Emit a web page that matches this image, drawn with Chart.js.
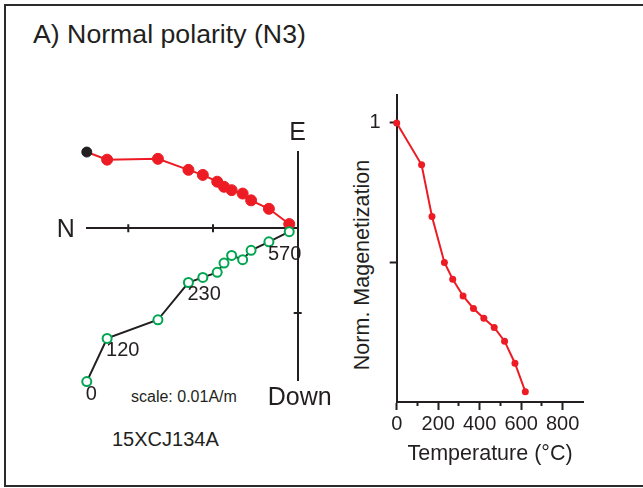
<!DOCTYPE html>
<html>
<head>
<meta charset="utf-8">
<script src="https://cdn.jsdelivr.net/npm/chart.js@4.4.1/dist/chart.umd.min.js"></script>
<style>
  body { margin: 0; background: #fff; }
  #page { position: relative; width: 643px; height: 488px; overflow: hidden; background: #fff;
          font-family: "Liberation Sans", Arial, sans-serif; color: #231f20; }
  #frame { position: absolute; left: 4px; top: 4px; width: 700px; height: 479px; border: 2px solid #2b2b2b; }
  .txt { position: absolute; white-space: nowrap; }
  canvas { position: absolute; }
</style>
</head>
<body>
<div id="page">
  <div id="frame"></div>
  <div class="txt" style="left:33px; top:21px; font-size:26.7px; line-height:26px;">A) Normal polarity (N3)</div>
  <div class="txt" style="left:131px; top:389px; font-size:16px; line-height:16px;">scale: 0.01A/m</div>
  <div class="txt" style="left:112px; top:429px; font-size:20px; line-height:20px;">15XCJ134A</div>
  <div class="txt" style="left:362px; top:265px; font-size:21.5px; line-height:21px; transform:translate(-50%,-50%) rotate(-90deg);">Norm. Magenetization</div>
  <canvas id="zij" width="300" height="320" style="left:40px; top:100px;"></canvas>
  <canvas id="demag" width="303" height="418" style="left:340px; top:70px;"></canvas>
</div>
<script>
// ---- Data ----
// demagnetization steps (°C)
const temps = [0, 120, 170, 230, 270, 320, 370, 420, 470, 520, 570, 620];
// Zijderveld components (A/m)
const north = [0.0249, 0.0225, 0.0165, 0.0129, 0.0112, 0.0095, 0.0087, 0.0078, 0.0065, 0.0055, 0.0034, 0.0010];
const east  = [0.0090, 0.0081, 0.0082, 0.0069, 0.0063, 0.0055, 0.0049, 0.0045, 0.0041, 0.0033, 0.0023, 0.0005];
const down  = [0.0181, 0.0130, 0.0108, 0.0064, 0.0058, 0.0052, 0.0041, 0.0032, 0.0037, 0.0026, 0.0016, 0.0004];
// normalised intensity
const normMag = [1.0, 0.85, 0.665, 0.50, 0.44, 0.38, 0.335, 0.30, 0.267, 0.218, 0.139, 0.037];

const labelSteps = [0, 1, 3, 10];      // steps that get a temperature label
const nTicks = [0.01, 0.02];
const downTicks = [0.01];
const yTicks = [0.5, 1];
const yTickLabels = ['', '1'];

const RED = '#ed1c24', GREEN = '#00a651', BLACK = '#231f20';
const FONT = '"Liberation Sans", Arial, sans-serif';

Chart.defaults.font.family = FONT;
Chart.defaults.color = BLACK;

// ---- Zijderveld extras: crossing ticks + axis letters + step labels ----
const zijExtras = {
  id: 'zijExtras',
  afterDraw(chart) {
    const { ctx, chartArea, scales: { x, y } } = chart;
    const x0 = x.getPixelForValue(0), y0 = y.getPixelForValue(0);
    ctx.save();
    ctx.strokeStyle = BLACK;
    ctx.lineWidth = 2;
    ctx.beginPath();
    nTicks.forEach(v => { const px = x.getPixelForValue(v); ctx.moveTo(px, y0 - 4); ctx.lineTo(px, y0 + 4); });
    downTicks.forEach(v => { const py = y.getPixelForValue(-v); ctx.moveTo(x0 - 4, py); ctx.lineTo(x0 + 4, py); });
    ctx.stroke();

    ctx.fillStyle = BLACK;
    ctx.font = '25px ' + FONT;
    ctx.textAlign = 'right';
    ctx.fillText('N', chartArea.left - 12, y0 + 9);
    ctx.textAlign = 'center';
    ctx.fillText('E', x0, chartArea.top - 12);
    ctx.fillText('Down', x0 + 2, chartArea.bottom + 25);

    ctx.font = '20px ' + FONT;
    ctx.textAlign = 'left';
    labelSteps.forEach(i => {
      ctx.fillText(String(temps[i]), x.getPixelForValue(north[i]) - 1, y.getPixelForValue(-down[i]) + 18);
    });
    ctx.restore();
  }
};

new Chart(document.getElementById('zij'), {
  type: 'scatter',
  data: {
    datasets: [
      { // vertical projection (N-Down)
        data: north.map((n, i) => ({ x: n, y: -down[i] })),
        showLine: true, clip: false,
        borderColor: BLACK, borderWidth: 2,
        pointRadius: 4.5, pointBorderWidth: 2,
        pointBorderColor: GREEN, pointBackgroundColor: '#fff'
      },
      { // horizontal projection (N-E)
        data: north.map((n, i) => ({ x: n, y: east[i] })),
        showLine: true, clip: false,
        borderColor: RED, borderWidth: 2,
        pointRadius: east.map((_, i) => i === 0 ? 5 : 5.5),
        pointBorderWidth: 1,
        pointBackgroundColor: east.map((_, i) => i === 0 ? BLACK : RED),
        pointBorderColor: east.map((_, i) => i === 0 ? BLACK : RED)
      }
    ]
  },
  options: {
    responsive: false, animation: false, devicePixelRatio: 1,
    layout: { padding: { left: 46.7, right: 42.3, top: 52.3, bottom: 40 } },
    plugins: { legend: { display: false }, tooltip: { enabled: false } },
    scales: {
      x: { type: 'linear', reverse: true, min: 0, max: 0.02491, position: { y: 0 },
           grid: { display: false, drawTicks: false }, ticks: { display: false },
           border: { color: BLACK, width: 2 } },
      y: { type: 'linear', min: -0.01791, max: 0.00897, position: { x: 0 },
           grid: { display: false, drawTicks: false }, ticks: { display: false },
           border: { color: BLACK, width: 2 } }
    }
  },
  plugins: [zijExtras]
});

// ---- Thermal demagnetization curve ----
new Chart(document.getElementById('demag'), {
  type: 'scatter',
  data: {
    datasets: [{
      data: temps.map((t, i) => ({ x: t, y: normMag[i] })),
      showLine: true, clip: false,
      borderColor: RED, borderWidth: 2,
      pointRadius: 3.5, pointBorderWidth: 0,
      pointBackgroundColor: RED
    }]
  },
  options: {
    responsive: false, animation: false, devicePixelRatio: 1,
    layout: { padding: { left: 0, right: 59.6, top: 25, bottom: 0 } },
    plugins: { legend: { display: false }, tooltip: { enabled: false } },
    scales: {
      x: {
        type: 'linear', min: 0, max: 900,
        afterFit: s => { s.height = 86; },
        ticks: { stepSize: 100, autoSkip: false, maxRotation: 0, minRotation: 0, padding: 2,
                 color: BLACK, font: { size: 20 },
                 callback: v => (v % 200 === 0 && v < 900) ? String(v) : '' },
        grid: { drawOnChartArea: false, tickLength: 8, tickWidth: 2,
                tickColor: c => (c.tick && c.tick.value >= 900) ? 'rgba(0,0,0,0)' : BLACK,
                tickBorderDash: c => (c.tick && c.tick.value % 200 !== 0) ? [3, 20] : [] },
        border: { color: BLACK, width: 2 },
        title: { display: true, text: 'Temperature (°C)', color: BLACK, font: { size: 21.5 }, padding: { top: 0, bottom: 21 } }
      },
      y: {
        type: 'linear', min: 0, max: 1.1,
        afterFit: s => { s.width = 56.7; },
        afterBuildTicks: s => { s.ticks = yTicks.map(v => ({ value: v })); },
        ticks: { padding: 9, color: BLACK, font: { size: 20 },
                 callback: (v, i) => yTickLabels[i] },
        grid: { drawOnChartArea: false, tickLength: 7, tickWidth: 2, tickColor: BLACK },
        border: { color: BLACK, width: 2 }
      }
    }
  }
});
</script>
</body>
</html>
